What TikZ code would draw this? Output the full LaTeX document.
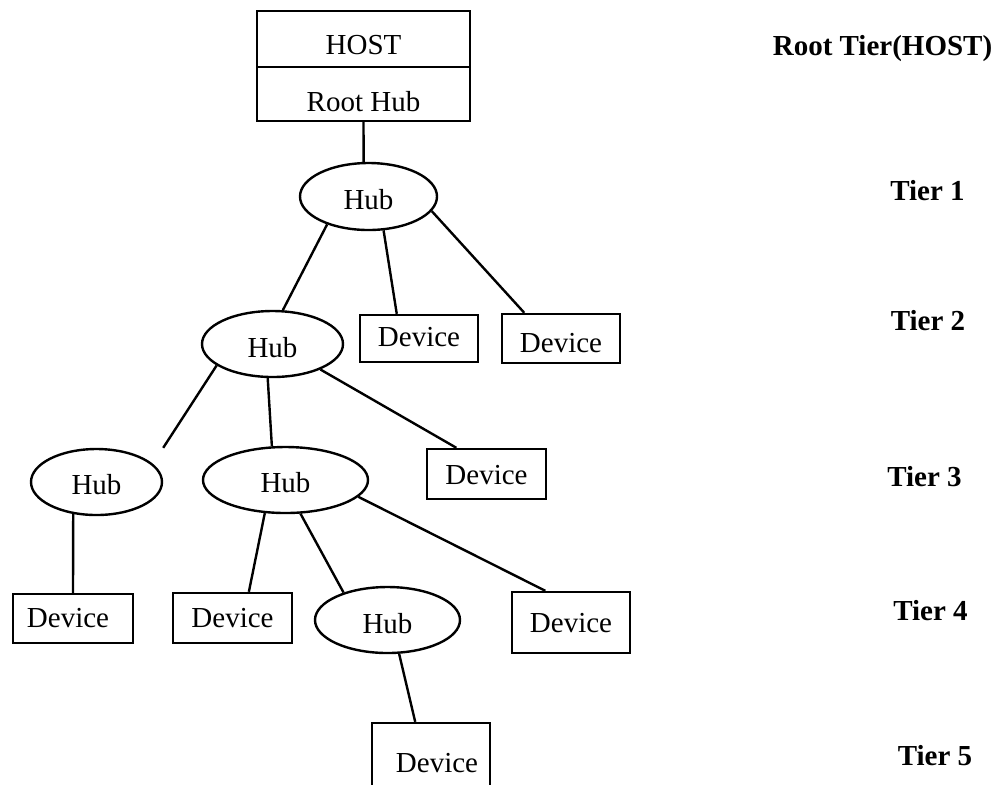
\documentclass[tikz,border=0pt]{standalone}
\usepackage{fontspec}
\setmainfont{Liberation Serif}
\usetikzlibrary{shapes.geometric}
\begin{document}
\begin{tikzpicture}[x=0.5pt,y=-0.5pt,
  every node/.style={font=\fontsize{14.5}{17}\selectfont},
  % move the text of a node down by #1 (cap height of the font is about 9.5pt)
  tshift/.code={\pgfmathsetlengthmacro\tshiftht{9.5pt+2*(#1)}%
    \edef\tshiftnext{\noexpand\tikzset{text height=\tshiftht,text depth=0pt}}\tshiftnext},
  outline/.style={draw, line width=1.2pt, inner sep=0pt},
  hostbox/.style={outline, rectangle, minimum width=106.5pt},
  hubnode/.style={outline, ellipse, tshift=1.75pt},
  devbox/.style={outline, rectangle},
  tierlabel/.style={font=\fontsize{14.5}{17}\selectfont\bfseries, anchor=base, inner sep=0pt},
  link/.style={line width=1.2pt}
]
\path[fill=white, use as bounding box] (0,0) rectangle (1000,784);
\clip (0,0) rectangle (1000,784);

% host with its root hub
\node[hostbox, minimum height=28pt, tshift=3pt] (host) at (363.5,39) {HOST};
\node[hostbox, minimum height=27pt, tshift=4pt] (root) at (363.5,94) {Root Hub};

% hubs
\node[hubnode, minimum width=68.5pt, minimum height=33.5pt] (hub1) at (368.5,196.5) {Hub};
\node[hubnode, minimum width=70.5pt, minimum height=33pt] (hub2) at (272.5,344) {Hub};
\node[hubnode, minimum width=65.5pt, minimum height=33pt, tshift=1.5pt] (hub3a) at (96.5,482) {Hub};
\node[hubnode, minimum width=82.5pt, minimum height=33pt, tshift=1.5pt] (hub3b) at (285.5,480) {Hub};
\node[hubnode, minimum width=72.5pt, minimum height=33pt, tshift=2pt] (hub4) at (387.5,620) {Hub};

% devices
\node[devbox, minimum width=59pt, minimum height=23.5pt, tshift=-0.75pt] (dev2a) at (419,338.5) {Device};
\node[devbox, minimum width=59pt, minimum height=24.5pt, tshift=2.25pt] (dev2b) at (561,338.5) {Device};
\node[devbox, minimum width=59.5pt, minimum height=25pt, tshift=0.5pt] (dev3) at (486.5,474) {Device};
\node[devbox, minimum width=60pt, minimum height=24.5pt, tshift=-0.5pt] (dev4a) at (73,618.5) {\kern-5pt Device};
\node[devbox, minimum width=59.5pt, minimum height=25pt, tshift=0pt] (dev4b) at (232.5,618) {Device};
\node[devbox, minimum width=59pt, minimum height=30.5pt, tshift=0pt] (dev4c) at (571,622.5) {Device};
\node[devbox, minimum width=59pt, minimum height=36pt, tshift=1.75pt] (dev5) at (431,759) {\kern6pt Device};

% cables
\draw[link] (root.south) -- (hub1.98);
\draw[link] (hub1.214) -- (hub2.73);
\draw[link] (hub1.294) -- (dev2a.132);
\draw[link] (hub1.347) -- (dev2b.145);
\draw[link] (hub2.201) -- (hub3a.north -| hub3a.east);
\draw[link] (hub2.262) -- (hub3b.112);
\draw[link] (hub2.332) -- (dev3.139);
\draw[link] (hub3a.234) -- (dev4a.north);
\draw[link] (hub3b.238) -- (dev4b.58);
\draw[link] (hub3b.294) -- (hub4.148);
\draw[link] (hub3b.347) -- (dev4c.129);
\draw[link] (hub4.289) -- (dev5.113);

% tier captions
\node[tierlabel] (tier0) at (882.5,55.7) {Root Tier(HOST)};
\node[tierlabel] (tier1) at (927.5,200) {Tier 1};
\node[tierlabel] (tier2) at (928,330) {Tier 2};
\node[tierlabel] (tier3) at (924.5,486.5) {Tier 3};
\node[tierlabel] (tier4) at (930.5,620) {Tier 4};
\node[tierlabel] (tier5) at (935,765) {Tier 5};
\end{tikzpicture}
\end{document}
